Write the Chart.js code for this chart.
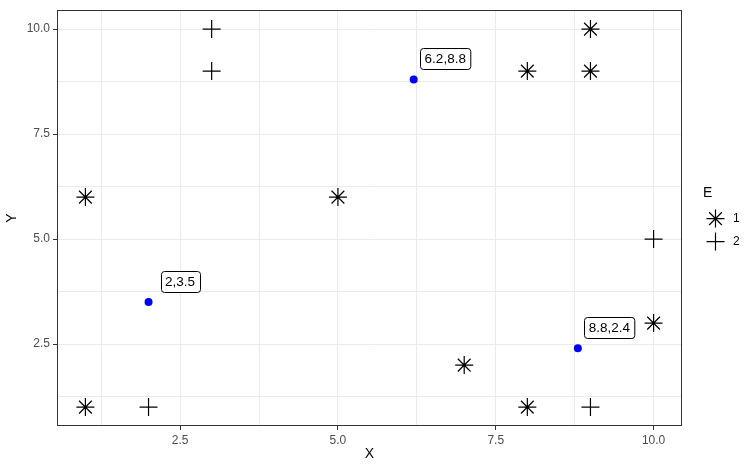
<!DOCTYPE html>
<html>
<head>
<meta charset="utf-8">
<script src="https://cdn.jsdelivr.net/npm/chart.js@4.4.0/dist/chart.umd.min.js"></script>
<style>
  html, body { margin: 0; padding: 0; background: #fff; }
  #wrap { width: 756px; height: 471px; }
</style>
</head>
<body>
<div id="wrap"><canvas id="scatter"></canvas></div>
<script>
// group E = 1 (asterisks)
var groupOneX = [1, 5, 8, 9, 9, 1, 7, 8, 10];
var groupOneY = [6, 6, 9, 10, 9, 1, 2, 1, 3];
// group E = 2 (plus signs)
var groupTwoX = [3, 3, 10, 2, 9];
var groupTwoY = [10, 9, 5, 1, 1];
// highlighted blue points with labels
var markedX = [2, 6.2, 8.8];
var markedY = [3.5, 8.8, 2.4];
// axis ticks
var majorTicks = [2.5, 5.0, 7.5, 10.0];
var minorTicks = [1.25, 3.75, 6.25, 8.75];
var legendTitle = 'E';
var legendLabels = ['1', '2'];

var FONT = '"Liberation Sans", Arial, sans-serif';

function toPoints(xs, ys) {
  return xs.map(function (x, i) { return { x: x, y: ys[i] }; });
}

function isMajor(v) {
  return majorTicks.some(function (m) { return Math.abs(m - v) < 1e-9; });
}

function setTicks(scale) {
  scale.ticks = majorTicks.concat(minorTicks)
    .sort(function (a, b) { return a - b; })
    .map(function (v) { return { value: v }; });
}

function axis(title, isY) {
  return {
    type: 'linear',
    min: 0.55,
    max: 10.45,
    afterBuildTicks: setTicks,
    afterFit: function (scale) {
      if (isY) scale.width = 57; else scale.height = 45;
      scale.paddingTop = 0; scale.paddingBottom = 0;
      scale.paddingLeft = 0; scale.paddingRight = 0;
    },
    border: { display: false },
    grid: {
      color: '#EBEBEB',
      lineWidth: 1,
      drawTicks: true,
      tickLength: 4,
      tickWidth: 1,
      tickColor: function (ctx) {
        return ctx.tick && isMajor(ctx.tick.value) ? '#333333' : 'rgba(0,0,0,0)';
      }
    },
    ticks: {
      color: '#4D4D4D',
      font: { family: FONT, size: 12 },
      padding: 3,
      autoSkip: false,
      maxRotation: 0,
      callback: function (v) { return isMajor(v) ? v.toFixed(1) : ''; }
    },
    title: {
      display: true,
      text: title,
      color: '#000000',
      font: { family: FONT, size: 14 },
      padding: isY ? { top: 4, bottom: 0 } : { top: 0, bottom: 8 }
    }
  };
}

var panelBorder = {
  id: 'panelBorder',
  afterDraw: function (chart) {
    var a = chart.chartArea, ctx = chart.ctx;
    ctx.save();
    ctx.strokeStyle = '#333333';
    ctx.lineWidth = 1;
    ctx.strokeRect(Math.round(a.left) + 0.5, Math.round(a.top) + 0.5,
      Math.round(a.right - a.left) - 1, Math.round(a.bottom - a.top) - 1);
    ctx.restore();
  }
};

var pointLabels = {
  id: 'pointLabels',
  afterDatasetsDraw: function (chart) {
    var ctx = chart.ctx, xs = chart.scales.x, ys = chart.scales.y;
    ctx.save();
    ctx.font = '13.5px ' + FONT;
    ctx.textAlign = 'center';
    ctx.textBaseline = 'middle';
    markedX.forEach(function (x, i) {
      var text = x + ',' + markedY[i];
      var cx = xs.getPixelForValue(x + 0.5);
      var cy = ys.getPixelForValue(markedY[i] + 0.5);
      var w = ctx.measureText(text).width + 9, h = 21;
      var l = Math.round(cx - w / 2) + 0.5, t = Math.round(cy - h / 2) + 0.5;
      ctx.beginPath();
      ctx.roundRect(l, t, w, h, 3);
      ctx.fillStyle = '#FFFFFF';
      ctx.fill();
      ctx.strokeStyle = '#000000';
      ctx.lineWidth = 1;
      ctx.stroke();
      ctx.fillStyle = '#000000';
      ctx.fillText(text, cx, cy + 1);
    });
    ctx.restore();
  }
};

function drawSymbol(ctx, style, x, y, r) {
  ctx.beginPath();
  ctx.moveTo(x - r, y); ctx.lineTo(x + r, y);
  ctx.moveTo(x, y - r); ctx.lineTo(x, y + r);
  if (style === 'star') {
    var d = r * Math.SQRT1_2;
    ctx.moveTo(x - d, y - d); ctx.lineTo(x + d, y + d);
    ctx.moveTo(x - d, y + d); ctx.lineTo(x + d, y - d);
  }
  ctx.stroke();
}

var sideLegend = {
  id: 'sideLegend',
  afterDraw: function (chart) {
    var ctx = chart.ctx;
    var mid = (chart.chartArea.top + chart.chartArea.bottom) / 2;
    ctx.save();
    ctx.fillStyle = '#000000';
    ctx.textBaseline = 'middle';
    ctx.textAlign = 'left';
    ctx.font = '14px ' + FONT;
    ctx.fillText(legendTitle, 703, mid - 25);
    ctx.font = '12px ' + FONT;
    ctx.strokeStyle = '#000000';
    ctx.lineWidth = 1.2;
    var styles = ['star', 'cross'];
    legendLabels.forEach(function (lab, i) {
      var y = mid + 0.5 + i * 23;
      drawSymbol(ctx, styles[i], 715.5, y, 9);
      ctx.fillText(lab, 733, y);
    });
    ctx.restore();
  }
};

new Chart(document.getElementById('scatter'), {
  type: 'scatter',
  data: {
    datasets: [
      {
        label: '1',
        data: toPoints(groupOneX, groupOneY),
        pointStyle: 'star',
        pointRadius: 9,
        pointHoverRadius: 9,
        borderColor: '#000000',
        backgroundColor: 'rgba(0,0,0,0)',
        pointBorderWidth: 1.2
      },
      {
        label: '2',
        data: toPoints(groupTwoX, groupTwoY),
        pointStyle: 'cross',
        pointRadius: 9,
        pointHoverRadius: 9,
        borderColor: '#000000',
        backgroundColor: 'rgba(0,0,0,0)',
        pointBorderWidth: 1.2
      },
      {
        label: 'marked',
        data: toPoints(markedX, markedY),
        pointStyle: 'circle',
        pointRadius: 4,
        pointHoverRadius: 4,
        borderColor: '#0000FF',
        backgroundColor: '#0000FF',
        pointBorderWidth: 0
      }
    ]
  },
  options: {
    responsive: true,
    maintainAspectRatio: false,
    devicePixelRatio: 1,
    animation: false,
    layout: { padding: { top: 7, right: 74, left: 0, bottom: 0 } },
    plugins: {
      legend: { display: false },
      tooltip: { enabled: false }
    },
    scales: {
      x: axis('X', false),
      y: axis('Y', true)
    }
  },
  plugins: [panelBorder, pointLabels, sideLegend]
});
</script>
</body>
</html>
